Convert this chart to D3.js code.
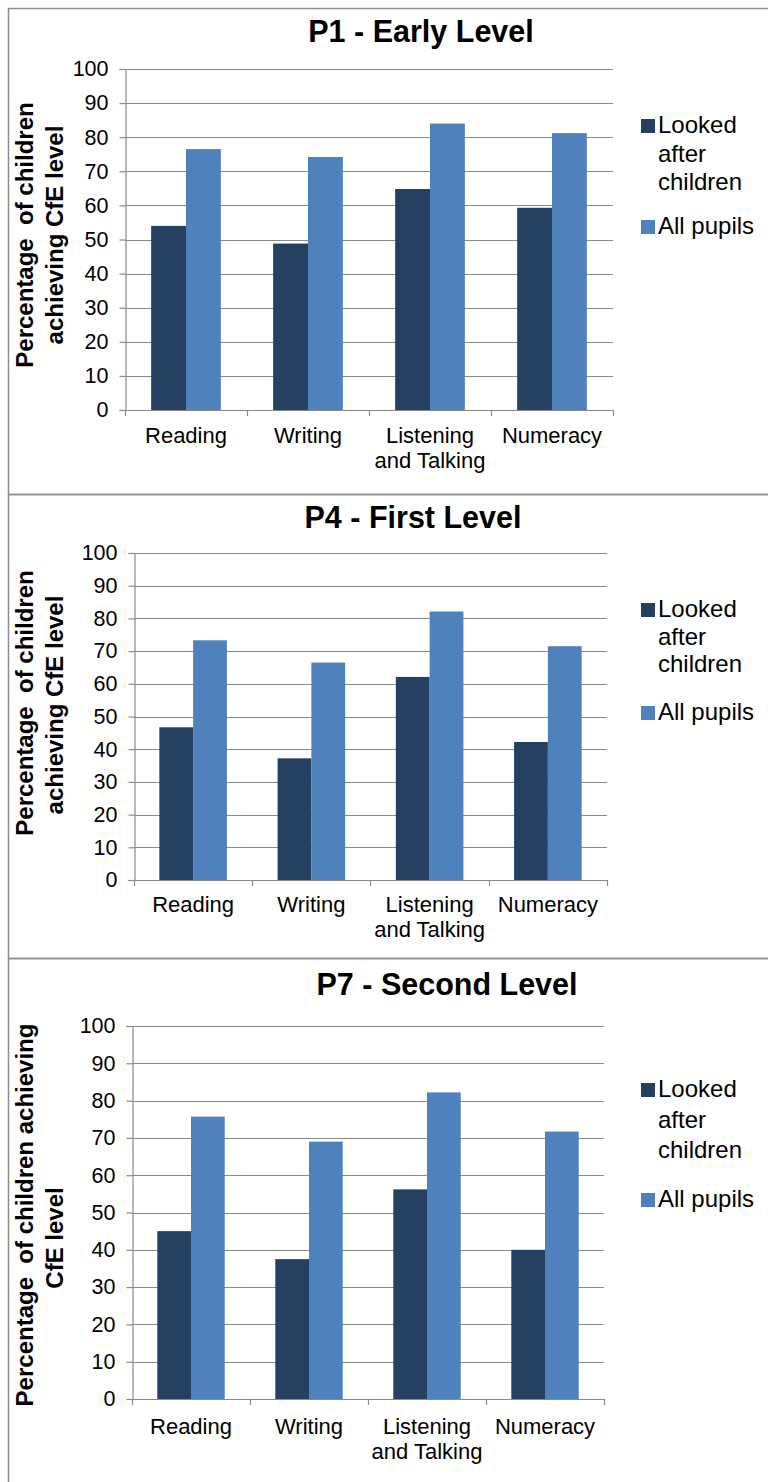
<!DOCTYPE html>
<html>
<head>
<meta charset="utf-8">
<script src="https://cdn.jsdelivr.net/npm/d3@7/dist/d3.min.js"></script>
<style>
  html, body { margin: 0; padding: 0; background: #fff; }
  svg { display: block; }
  text { font-family: "Liberation Sans", Arial, sans-serif; fill: #000; }
</style>
</head>
<body>
<svg id="chart" width="768" height="1482"></svg>
<script>
// ---- data ----
const categories = ["Reading", "Writing", "Listening and Talking", "Numeracy"];
const categoryLines = [["Reading"], ["Writing"], ["Listening", "and Talking"], ["Numeracy"]];
const seriesNames = ["Looked after children", "All pupils"];
const panelTitles = ["P1 - Early Level", "P4 - First Level", "P7 - Second Level"];
const lookedAfterP1 = [54.0, 48.8, 64.8, 59.3];
const allPupilsP1   = [76.5, 74.2, 84.0, 81.2];
const lookedAfterP4 = [46.7, 37.2, 62.1, 42.2];
const allPupilsP4   = [73.3, 66.5, 82.1, 71.5];
const lookedAfterP7 = [45.0, 37.5, 56.2, 40.0];
const allPupilsP7   = [75.7, 69.0, 82.2, 71.7];
const yTicks = [0, 10, 20, 30, 40, 50, 60, 70, 80, 90, 100];
const yTitleP1 = ["Percentage  of children", "achieving CfE level"];
const yTitleP4 = ["Percentage  of children", "achieving CfE level"];
const yTitleP7 = ["Percentage  of children achieving", "CfE level"];

const colors = ["#254061", "#4F81BD"];
const gridColor = "#8a8a8a";

// ---- layout per panel ----
const panels = [
  { title: panelTitles[0], lac: lookedAfterP1, all: allPupilsP1, ytitle: yTitleP1,
    top: 8, bottom: 494, x0: 125, x1: 613, y0: 410, y1: 69,
    titleX: 421, titleY: 42, ytCY: [235, 235], legY: [133, 162, 190, 234], xlY: 443 },
  { title: panelTitles[1], lac: lookedAfterP4, all: allPupilsP4, ytitle: yTitleP4,
    top: 494, bottom: 958, x0: 134, x1: 607, y0: 880, y1: 553,
    titleX: 413, titleY: 528, ytCY: [703, 705], legY: [617, 645, 672, 720], xlY: 912 },
  { title: panelTitles[2], lac: lookedAfterP7, all: allPupilsP7, ytitle: yTitleP7,
    top: 958, bottom: 1500, x0: 132, x1: 604, y0: 1399, y1: 1026,
    titleX: 447, titleY: 995, ytCY: [1215, 1238], legY: [1097, 1128, 1158, 1207], xlY: 1434 }
];

const svg = d3.select("#chart");
svg.append("rect").attr("width", 768).attr("height", 1482).attr("fill", "#fff");

panels.forEach((p) => {
  const g = svg.append("g");
  // frame
  g.append("rect")
    .attr("x", 8.5).attr("y", p.top + 0.5)
    .attr("width", 800).attr("height", p.bottom - p.top)
    .attr("fill", "none").attr("stroke", "#8c8c8c").attr("stroke-width", 1.5);

  const y = d3.scaleLinear().domain([0, 100]).range([p.y0, p.y1]);
  const pad = 1.5 / 3.5;
  const x = d3.scaleBand().domain(categories).range([p.x0, p.x1])
    .paddingInner(pad).paddingOuter(pad / 2);
  const xs = d3.scaleBand().domain(seriesNames).range([0, x.bandwidth()]).padding(0);

  // gridlines
  g.append("g").selectAll("line").data(yTicks.filter(t => t > 0)).join("line")
    .attr("x1", p.x0).attr("x2", p.x1)
    .attr("y1", d => Math.round(y(d)) + 0.5).attr("y2", d => Math.round(y(d)) + 0.5)
    .attr("stroke", gridColor).attr("stroke-width", 1.2);

  // bars
  const rows = categories.map((c, i) => ({ cat: c, vals: [p.lac[i], p.all[i]] }));
  const grp = g.append("g").selectAll("g").data(rows).join("g")
    .attr("transform", d => `translate(${x(d.cat)},0)`);
  grp.selectAll("rect").data(d => d.vals.map((v, j) => ({ v, s: seriesNames[j], j }))).join("rect")
    .attr("x", d => xs(d.s)).attr("width", xs.bandwidth())
    .attr("y", d => y(d.v)).attr("height", d => y(0) - y(d.v))
    .attr("fill", d => colors[d.j]);

  // y axis
  const yAxis = d3.axisLeft(y).tickValues(yTicks).tickSize(6).tickPadding(11);
  const ya = g.append("g").attr("transform", `translate(${p.x0 + 0.5},0)`).call(yAxis);
  ya.select(".domain").attr("stroke", gridColor).attr("stroke-width", 1.2);
  ya.selectAll(".tick line").attr("stroke", gridColor).attr("stroke-width", 1.2);
  ya.selectAll(".tick text").style("font-size", "21.5px").style("font-family", '"Liberation Sans", Arial, sans-serif').attr("fill", "#000");

  // x axis line + ticks between categories
  g.append("line").attr("x1", p.x0).attr("x2", p.x1)
    .attr("y1", Math.round(p.y0) + 0.5).attr("y2", Math.round(p.y0) + 0.5)
    .attr("stroke", gridColor).attr("stroke-width", 1.2);
  const bounds = categories.map(c => x(c) - x.step() * pad / 2).concat([p.x1]);
  g.append("g").selectAll("line").data(bounds).join("line")
    .attr("x1", d => Math.round(d) + 0.5).attr("x2", d => Math.round(d) + 0.5)
    .attr("y1", p.y0).attr("y2", p.y0 + 6)
    .attr("stroke", gridColor).attr("stroke-width", 1.2);

  // x labels
  categories.forEach((c, i) => {
    const cx = x(c) + x.bandwidth() / 2;
    const t = g.append("text").attr("x", cx).attr("y", p.xlY)
      .attr("text-anchor", "middle").style("font-size", "22px");
    categoryLines[i].forEach((ln, k) => {
      t.append("tspan").attr("x", cx).attr("dy", k === 0 ? 0 : 25).text(ln);
    });
  });

  // title
  g.append("text").attr("x", p.titleX).attr("y", p.titleY)
    .attr("text-anchor", "middle").style("font-size", "30.5px").style("font-weight", "bold")
    .text(p.title);

  // y title (two lines, rotated)
  p.ytitle.forEach((ln, k) => {
    g.append("text")
      .attr("transform", `translate(${k === 0 ? 33 : 63},${p.ytCY[k]}) rotate(-90)`)
      .attr("text-anchor", "middle").style("font-size", "24px").style("font-weight", "bold")
      .attr("xml:space", "preserve").text(ln);
  });

  // legend
  const lx = 641;
  g.append("rect").attr("x", lx).attr("y", p.legY[0] - 14).attr("width", 14).attr("height", 14).attr("fill", colors[0]);
  ["Looked", "after", "children"].forEach((w, k) => {
    g.append("text").attr("x", lx + 17).attr("y", p.legY[k]).style("font-size", "24px").text(w);
  });
  g.append("rect").attr("x", lx).attr("y", p.legY[3] - 14).attr("width", 14).attr("height", 14).attr("fill", colors[1]);
  g.append("text").attr("x", lx + 17).attr("y", p.legY[3]).style("font-size", "24px").text("All pupils");
});
</script>
</body>
</html>
